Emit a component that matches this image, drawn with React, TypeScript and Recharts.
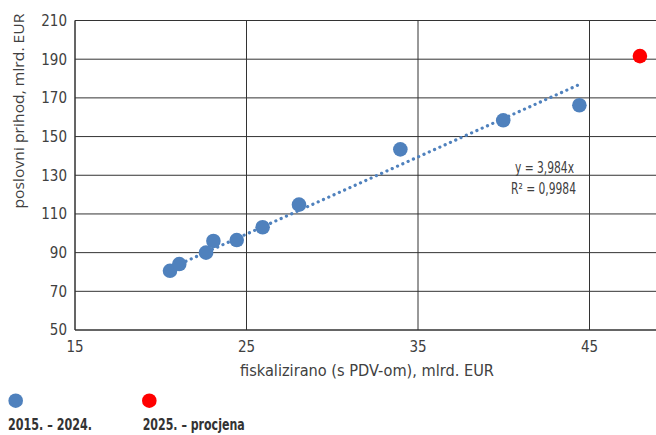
import {
  CartesianGrid,
  Scatter,
  ScatterChart,
  XAxis,
  YAxis,
} from "recharts";

// fiskalizirano (s PDV-om) vs. poslovni prihod, mlrd. EUR
const fiscalized2015to2024 = [20.54, 21.08, 22.64, 23.07, 24.43, 25.94, 28.06, 33.97, 39.97, 44.41];
const revenue2015to2024 = [80.6, 84.1, 90.0, 96.0, 96.5, 103.1, 114.8, 143.4, 158.4, 166.2];

const fiscalized2025 = [47.94];
const revenue2025 = [191.6];

// linear trendline through origin, y = 3,984x
const trendSlope = 3.984;
const trendLabel = "y = 3,984x";
const r2Label = "R² = 0,9984";

const xTicks = [15, 25, 35, 45];
const yTicks = [50, 70, 90, 110, 130, 150, 170, 190, 210];

const xTitle = "fiskalizirano (s PDV-om), mlrd. EUR";
const yTitle = "poslovni prihod, mlrd. EUR";
const legendHistory = "2015. – 2024.";
const legendEstimate = "2025. – procjena";

const BLUE = "#4f81bd";
const RED = "#ff0000";
const TEXT = "#404040";
const GRID = "#333333";
const NARROW = '"Liberation Sans Narrow", "DejaVu Sans Condensed", sans-serif';
const REGULAR = '"Open Sans", "Noto Sans", sans-serif';

const history = fiscalized2015to2024.map((x, i) => ({ x, y: revenue2015to2024[i] }));
const estimate = fiscalized2025.map((x, i) => ({ x, y: revenue2025[i] }));
const trendXs = [Math.min(...fiscalized2015to2024), Math.max(...fiscalized2015to2024)];
const trend = trendXs.map((x) => ({ x, y: trendSlope * x }));

function dot(color: string) {
  return function Dot(props: { cx?: number; cy?: number }) {
    return <circle cx={props.cx} cy={props.cy} r={7.3} fill={color} />;
  };
}

export default function App() {
  return (
    <div
      style={{
        position: "fixed",
        top: 0,
        left: 0,
        width: 656,
        height: 435,
        overflow: "hidden",
        background: "#fff",
      }}
    >
      <ScatterChart
        width={680}
        height={435}
        margin={{ top: 20.5, right: 4.75, bottom: 75, left: 0 }}
      >
        <CartesianGrid stroke={GRID} strokeWidth={1} />
        <XAxis
          type="number"
          dataKey="x"
          domain={[15, 50]}
          ticks={xTicks}
          height={30}
          axisLine={{ stroke: GRID }}
          tickLine={false}
          tickMargin={5}
          tick={{ fontSize: 15, fill: TEXT, fontFamily: NARROW }}
          allowDataOverflow
        />
        <YAxis
          type="number"
          dataKey="y"
          domain={[50, 210]}
          ticks={yTicks}
          width={75}
          axisLine={{ stroke: GRID }}
          tickLine={false}
          tick={{ fontSize: 15, fill: TEXT, fontFamily: NARROW }}
          allowDataOverflow
        />
        <Scatter
          data={trend}
          isAnimationActive={false}
          line={{
            stroke: BLUE,
            strokeWidth: 3.2,
            strokeDasharray: "0.1 5.7",
            strokeLinecap: "round",
          }}
          shape={() => <g />}
        />
        <Scatter data={history} isAnimationActive={false} shape={dot(BLUE)} />
        <Scatter data={estimate} isAnimationActive={false} shape={dot(RED)} />
      </ScatterChart>

      <svg
        width={656}
        height={435}
        style={{ position: "absolute", top: 0, left: 0, pointerEvents: "none" }}
      >
        <text
          x={18}
          y={111}
          transform="rotate(-90 18 111)"
          textAnchor="middle"
          dominantBaseline="central"
          fontSize={15}
          fill={TEXT}
          fontFamily={REGULAR}
          textLength={195}
          lengthAdjust="spacingAndGlyphs"
        >
          {yTitle}
        </text>
        <text
          x={367}
          y={370}
          textAnchor="middle"
          dominantBaseline="central"
          fontSize={16}
          fill={TEXT}
          fontFamily={NARROW}
          textLength={254}
          lengthAdjust="spacingAndGlyphs"
        >
          {xTitle}
        </text>
        <text
          x={515}
          y={167}
          dominantBaseline="central"
          fontSize={16}
          fill={TEXT}
          fontFamily={NARROW}
          textLength={59}
          lengthAdjust="spacingAndGlyphs"
        >
          {trendLabel}
        </text>
        <text
          x={511}
          y={188}
          dominantBaseline="central"
          fontSize={16}
          fill={TEXT}
          fontFamily={NARROW}
          textLength={65}
          lengthAdjust="spacingAndGlyphs"
        >
          {r2Label}
        </text>

        <circle cx={15.7} cy={400.7} r={7.3} fill={BLUE} />
        <text
          x={8}
          y={425}
          dominantBaseline="central"
          fontSize={15}
          fontWeight="bold"
          fill="#333"
          fontFamily={NARROW}
          textLength={84}
          lengthAdjust="spacingAndGlyphs"
        >
          {legendHistory}
        </text>
        <circle cx={149.3} cy={400.7} r={7.3} fill={RED} />
        <text
          x={142.7}
          y={425}
          dominantBaseline="central"
          fontSize={15}
          fontWeight="bold"
          fill="#333"
          fontFamily={NARROW}
          textLength={102}
          lengthAdjust="spacingAndGlyphs"
        >
          {legendEstimate}
        </text>
      </svg>
    </div>
  );
}
